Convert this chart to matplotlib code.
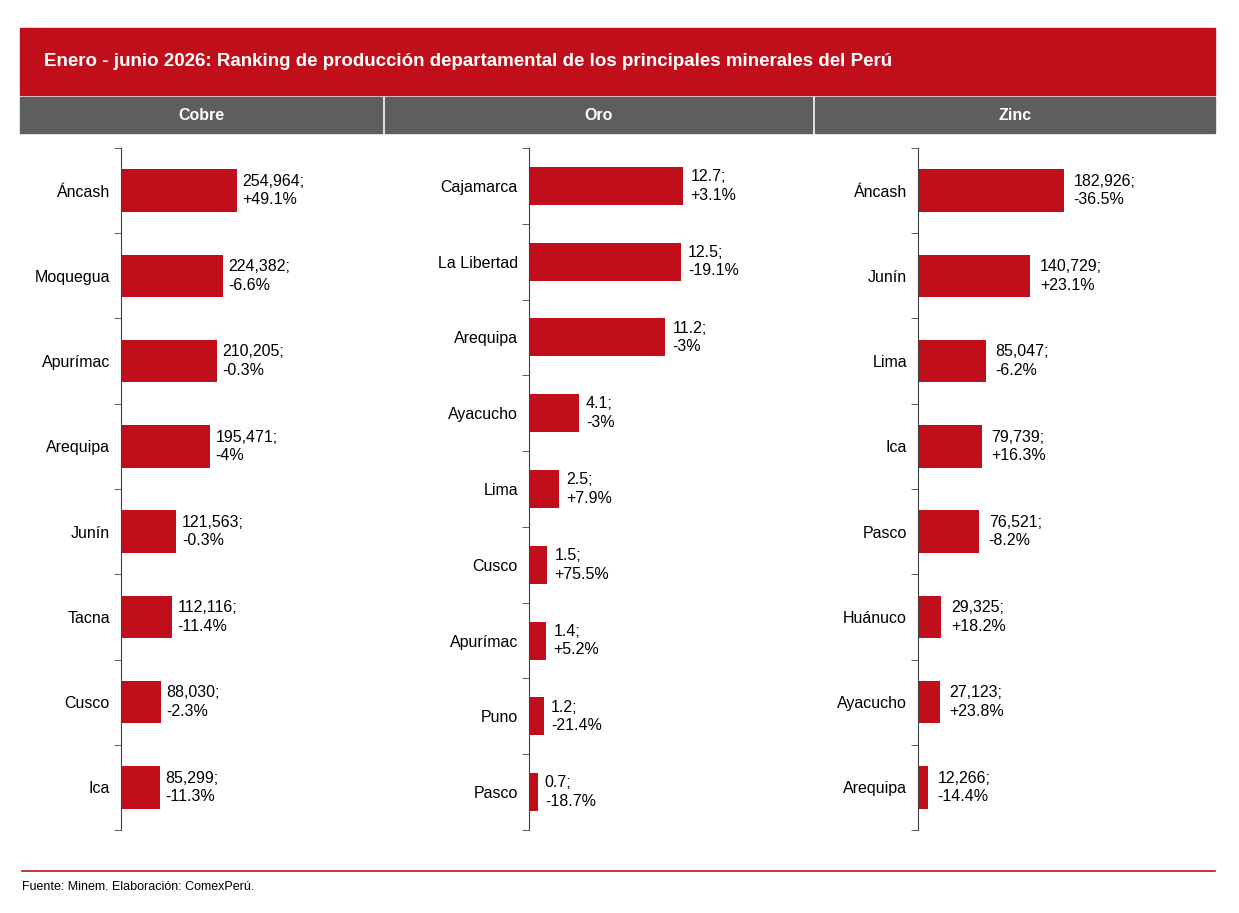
import matplotlib.pyplot as plt
from matplotlib.patches import Rectangle
from matplotlib.lines import Line2D

RED = '#C00F1A'
GRAY = '#5E5E5E'

cobre_dep = ['Áncash', 'Moquegua', 'Apurímac', 'Arequipa', 'Junín', 'Tacna', 'Cusco', 'Ica']
cobre_val = [254964, 224382, 210205, 195471, 121563, 112116, 88030, 85299]
cobre_lbl = ['254,964;\n+49.1%', '224,382;\n-6.6%', '210,205;\n-0.3%', '195,471;\n-4%',
             '121,563;\n-0.3%', '112,116;\n-11.4%', '88,030;\n-2.3%', '85,299;\n-11.3%']

oro_dep = ['Cajamarca', 'La Libertad', 'Arequipa', 'Ayacucho', 'Lima', 'Cusco', 'Apurímac', 'Puno', 'Pasco']
oro_val = [12.7, 12.5, 11.2, 4.1, 2.5, 1.5, 1.4, 1.2, 0.7]
oro_lbl = ['12.7;\n+3.1%', '12.5;\n-19.1%', '11.2;\n-3%', '4.1;\n-3%', '2.5;\n+7.9%',
           '1.5;\n+75.5%', '1.4;\n+5.2%', '1.2;\n-21.4%', '0.7;\n-18.7%']

zinc_dep = ['Áncash', 'Junín', 'Lima', 'Ica', 'Pasco', 'Huánuco', 'Ayacucho', 'Arequipa']
zinc_val = [182926, 140729, 85047, 79739, 76521, 29325, 27123, 12266]
zinc_lbl = ['182,926;\n-36.5%', '140,729;\n+23.1%', '85,047;\n-6.2%', '79,739;\n+16.3%',
            '76,521;\n-8.2%', '29,325;\n+18.2%', '27,123;\n+23.8%', '12,266;\n-14.4%']

W, H = 1239, 913
plt.rcParams['font.family'] = ['Liberation Sans', 'DejaVu Sans']
fig = plt.figure(figsize=(W / 100, H / 100), dpi=100)

def px(x0, y0, x1, y1):
    return [x0 / W, 1 - y1 / H, (x1 - x0) / W, (y1 - y0) / H]

# title band
fig.patches.append(Rectangle((20 / W, 1 - 95 / H), 1195 / W, 67 / H, transform=fig.transFigure,
                             color=RED, zorder=0))
fig.text(44 / W, 1 - 62 / H, 'Enero - junio 2026: Ranking de producción departamental de los principales minerales del Perú',
         color='white', fontsize=13.5, fontweight='bold', va='center')

headers = [('Cobre', 20, 382), ('Oro', 385, 812), ('Zinc', 815, 1215)]
for name, x0, x1 in headers:
    fig.patches.append(Rectangle((x0 / W, 1 - 133 / H), (x1 - x0) / W, 36 / H,
                                 transform=fig.transFigure, color=GRAY, zorder=0))
    fig.text((x0 + x1) / 2 / W, 1 - 116 / H, name, color='white', fontsize=11.5,
             fontweight='bold', ha='center', va='center')

panels = [
    (cobre_dep, cobre_val, cobre_lbl, 121, 382, 573700, 12000),
    (oro_dep, oro_val, oro_lbl, 529, 812, 23.3, 0.6),
    (zinc_dep, zinc_val, zinc_lbl, 918, 1215, 372000, 12000),
]
for dep, val, lbl, x0, x1, xmax, off in panels:
    ax = fig.add_axes(px(x0, 148, x1, 830))
    n = len(dep)
    y = list(range(n))
    ax.barh(y, val, height=0.5, color=RED)
    for yi, v, t in zip(y, val, lbl):
        ax.text(v + off, yi, t, fontsize=11.5, va='center', ha='left', linespacing=1.3)
    ax.set_xlim(0, xmax)
    ax.set_ylim(n - 0.5, -0.5)
    ax.set_yticks(y)
    ax.set_yticklabels(dep, fontsize=11.5)
    ax.tick_params(axis='y', which='major', length=0, pad=8)
    ax.set_yticks([i - 0.5 for i in range(n + 1)], minor=True)
    ax.tick_params(axis='y', which='minor', length=5, direction='out', color='#404040')
    ax.set_xticks([])
    for s in ['top', 'right', 'bottom']:
        ax.spines[s].set_visible(False)
    ax.spines['left'].set_color('#404040')

fig.lines.append(Line2D([22 / W, 1215 / W], [1 - 871 / H] * 2, transform=fig.transFigure,
                        color=RED, lw=1.2))
fig.text(22 / W, 1 - 887 / H, 'Fuente: Minem. Elaboración: ComexPerú.', fontsize=9, va='center')

fig.savefig('out.png', dpi=100)
